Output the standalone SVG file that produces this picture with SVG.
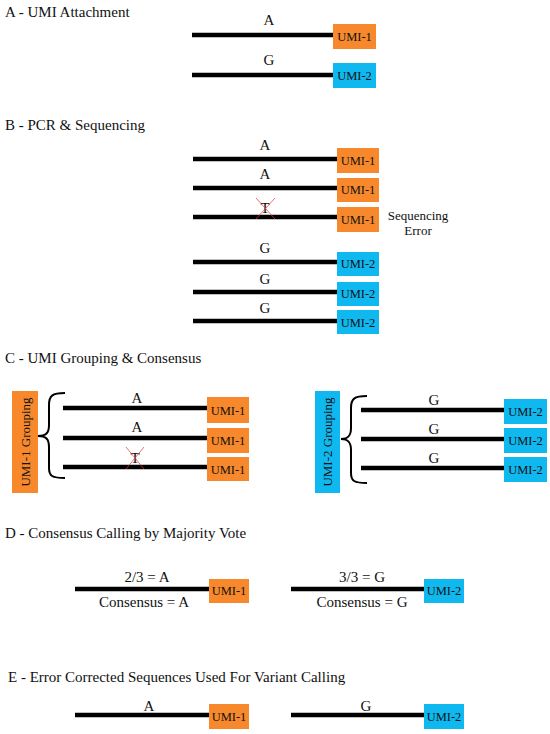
<svg xmlns="http://www.w3.org/2000/svg" width="550" height="734" viewBox="0 0 550 734">
<style>
text{font-family:"Liberation Serif","Times New Roman",serif;fill:#111}
.title{font-size:15px}
.lbl{font-size:15px;text-anchor:middle}
.umi{font-size:12.5px;text-anchor:middle}
.strand{stroke:#000;stroke-width:4.5;fill:none}
.o{fill:#F7892C}
.b{fill:#10B8F0}
.x{stroke:#E8403A;stroke-width:0.9;opacity:0.8}
.brace{stroke:#000;stroke-width:2;fill:none}
</style>
<rect width="550" height="734" fill="#fff"/>

<text class="title" x="5" y="17">A - UMI Attachment</text>
<text class="title" x="5" y="130">B - PCR &amp; Sequencing</text>
<text class="title" x="5" y="363">C - UMI Grouping &amp; Consensus</text>
<text class="title" x="5" y="538">D - Consensus Calling by Majority Vote</text>
<text class="title" x="8" y="682">E - Error Corrected Sequences Used For Variant Calling</text>

<g id="connectors">
<line class="strand" x1="192" y1="35" x2="334" y2="35"/>
<line class="strand" x1="192" y1="75" x2="334" y2="75"/>
<line class="strand" x1="193" y1="159" x2="338" y2="159"/>
<line class="strand" x1="193" y1="188" x2="338" y2="188"/>
<line class="strand" x1="193" y1="217" x2="338" y2="217"/>
<line class="strand" x1="193" y1="262" x2="338" y2="262"/>
<line class="strand" x1="193" y1="292" x2="338" y2="292"/>
<line class="strand" x1="193" y1="321" x2="338" y2="321"/>
<line class="strand" x1="63" y1="408" x2="208" y2="408"/>
<line class="strand" x1="63" y1="438" x2="208" y2="438"/>
<line class="strand" x1="63" y1="467" x2="208" y2="467"/>
<line class="strand" x1="361" y1="410" x2="505" y2="410"/>
<line class="strand" x1="361" y1="439" x2="505" y2="439"/>
<line class="strand" x1="361" y1="468" x2="505" y2="468"/>
<line class="strand" x1="75" y1="589" x2="210" y2="589"/>
<line class="strand" x1="291" y1="589" x2="425" y2="589"/>
<line class="strand" x1="75" y1="715" x2="210" y2="715"/>
<line class="strand" x1="291" y1="715" x2="425" y2="715"/>
<path class="brace" d="M65,393 C52,393 49,396 49,405 L49,425 C49,433 46,436 38,436 C46,436 49,439 49,447 L49,468 C49,476 52,478 65,478"/>
<path class="brace" d="M367,396 C354,396 351,399 351,408 L351,428 C351,436 348,439 341,439 C348,439 351,442 351,450 L351,473 C351,481 354,483 367,483"/>
</g>

<g id="a-labels">
<text class="lbl" x="269" y="25">A</text>
<text class="lbl" x="269" y="65">G</text>
</g>
<g id="a-umi1"><rect class="o" x="333" y="24" width="43" height="25"/><text class="umi" x="354.5" y="41">UMI-1</text></g>
<g id="a-umi2"><rect class="b" x="333" y="63" width="43" height="25"/><text class="umi" x="354.5" y="80">UMI-2</text></g>

<g id="b-labels">
<text class="lbl" x="265" y="150">A</text>
<text class="lbl" x="265" y="179">A</text>
<text class="lbl" x="265" y="213">T</text>
<line class="x" x1="256" y1="198" x2="275" y2="219"/>
<line class="x" x1="275" y1="198" x2="256" y2="219"/>
<text class="lbl" x="265" y="253">G</text>
<text class="lbl" x="265" y="284">G</text>
<text class="lbl" x="265" y="313">G</text>
</g>
<g id="b-umi1a"><rect class="o" x="337" y="148" width="42" height="25"/><text class="umi" x="358" y="165">UMI-1</text></g>
<g id="b-umi1b"><rect class="o" x="337" y="178" width="42" height="24"/><text class="umi" x="358" y="194">UMI-1</text></g>
<g id="b-umi1c"><rect class="o" x="337" y="207" width="42" height="25"/><text class="umi" x="358" y="224">UMI-1</text></g>
<g id="b-umi2a"><rect class="b" x="337" y="252" width="42" height="24"/><text class="umi" x="358" y="268">UMI-2</text></g>
<g id="b-umi2b"><rect class="b" x="337" y="282" width="42" height="24"/><text class="umi" x="358" y="298">UMI-2</text></g>
<g id="b-umi2c"><rect class="b" x="337" y="310" width="42" height="24"/><text class="umi" x="358" y="327">UMI-2</text></g>
<g id="b-error">
<text x="418" y="220" font-size="13" text-anchor="middle">Sequencing</text>
<text x="418" y="235" font-size="13" text-anchor="middle">Error</text>
</g>

<g id="c-group1"><rect class="o" x="12" y="391" width="26" height="102"/><text x="0" y="0" font-size="13" text-anchor="middle" transform="translate(29.5,442) rotate(-90)">UMI-1 Grouping</text></g>
<g id="c-group2"><rect class="b" x="315" y="391" width="25" height="102"/><text x="0" y="0" font-size="13" text-anchor="middle" transform="translate(332,442) rotate(-90)">UMI-2 Grouping</text></g>
<g id="c-labels">
<text class="lbl" x="137" y="403">A</text>
<text class="lbl" x="137" y="432">A</text>
<text class="lbl" x="135" y="463">T</text>
<line class="x" x1="126" y1="447" x2="144" y2="469"/>
<line class="x" x1="144" y1="447" x2="126" y2="469"/>
<text class="lbl" x="434" y="405">G</text>
<text class="lbl" x="434" y="434">G</text>
<text class="lbl" x="434" y="463">G</text>
</g>
<g id="c-umi1a"><rect class="o" x="207" y="397" width="42" height="26"/><text class="umi" x="228" y="415">UMI-1</text></g>
<g id="c-umi1b"><rect class="o" x="207" y="428" width="42" height="25"/><text class="umi" x="228" y="445">UMI-1</text></g>
<g id="c-umi1c"><rect class="o" x="207" y="457" width="42" height="24"/><text class="umi" x="228" y="474">UMI-1</text></g>
<g id="c-umi2a"><rect class="b" x="504" y="399" width="43" height="25"/><text class="umi" x="525.5" y="416">UMI-2</text></g>
<g id="c-umi2b"><rect class="b" x="504" y="428" width="43" height="25"/><text class="umi" x="525.5" y="445">UMI-2</text></g>
<g id="c-umi2c"><rect class="b" x="504" y="457" width="43" height="25"/><text class="umi" x="525.5" y="474">UMI-2</text></g>

<g id="d-labels">
<text class="lbl" x="147" y="582">2/3 = A</text>
<text class="lbl" x="144" y="607">Consensus = A</text>
<text class="lbl" x="362" y="582">3/3 = G</text>
<text class="lbl" x="362" y="607">Consensus = G</text>
</g>
<g id="d-umi1"><rect class="o" x="209" y="579" width="40" height="24"/><text class="umi" x="229" y="595">UMI-1</text></g>
<g id="d-umi2"><rect class="b" x="424" y="579" width="40" height="24"/><text class="umi" x="444" y="595">UMI-2</text></g>

<g id="e-labels">
<text class="lbl" x="149" y="711">A</text>
<text class="lbl" x="366" y="711">G</text>
</g>
<g id="e-umi1"><rect class="o" x="209" y="704" width="40" height="25"/><text class="umi" x="229" y="721">UMI-1</text></g>
<g id="e-umi2"><rect class="b" x="424" y="704" width="40" height="25"/><text class="umi" x="444" y="721">UMI-2</text></g>
</svg>
